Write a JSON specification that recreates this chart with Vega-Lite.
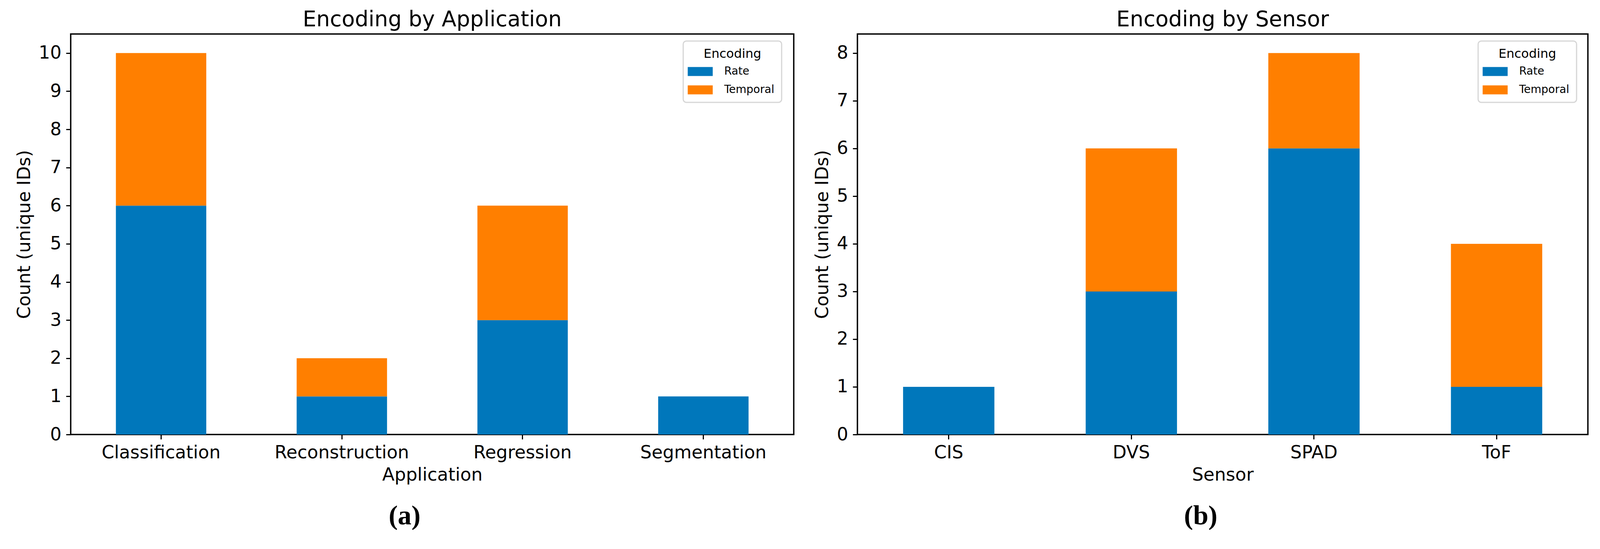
{
  "$schema": "https://vega.github.io/schema/vega-lite/v6.json",
  "background": "white",
  "padding": {"left": 37, "top": 21, "right": 0, "bottom": 0},
  "config": {
    "font": "DejaVu Sans",
    "view": {"stroke": "black", "strokeWidth": 3.5},
    "axis": {"grid": false, "domain": false, "tickColor": "black", "tickWidth": 3, "tickSize": 12, "labelFontSize": 46, "titleFontSize": 46, "labelColor": "black", "titleColor": "black", "titleFontWeight": "normal", "labelPadding": 12, "titlePadding": 12, "labelFont": "DejaVu Sans", "titleFont": "DejaVu Sans", "labelLimit": 0},
    "title": {"fontSize": 55, "fontWeight": "normal", "color": "black", "font": "DejaVu Sans"},
    "legend": {"orient": "none", "padding": 18, "fillColor": "white", "strokeColor": "#d6d6d6", "strokeWidth": 3, "cornerRadius": 8, "titleFontSize": 32, "titleFontWeight": "normal", "titleAnchor": "middle", "titlePadding": 12, "labelFontSize": 28, "titleColor": "black", "labelColor": "black", "symbolType": "M-1.4,-0.72L2.6,-0.72L2.6,0.72L-1.4,0.72Z", "symbolSize": 1024, "symbolStrokeWidth": 0, "symbolOpacity": 1, "labelOffset": 55, "rowPadding": 17}
  },
  "datasets": {
    "app": [
      {"Application": "Classification", "Encoding": "Rate", "Count": 6},
      {"Application": "Classification", "Encoding": "Temporal", "Count": 4},
      {"Application": "Reconstruction", "Encoding": "Rate", "Count": 1},
      {"Application": "Reconstruction", "Encoding": "Temporal", "Count": 1},
      {"Application": "Regression", "Encoding": "Rate", "Count": 3},
      {"Application": "Regression", "Encoding": "Temporal", "Count": 3},
      {"Application": "Segmentation", "Encoding": "Rate", "Count": 1},
      {"Application": "Segmentation", "Encoding": "Temporal", "Count": 0}
    ],
    "sensor": [
      {"Sensor": "CIS", "Encoding": "Rate", "Count": 1},
      {"Sensor": "CIS", "Encoding": "Temporal", "Count": 0},
      {"Sensor": "DVS", "Encoding": "Rate", "Count": 3},
      {"Sensor": "DVS", "Encoding": "Temporal", "Count": 3},
      {"Sensor": "SPAD", "Encoding": "Rate", "Count": 6},
      {"Sensor": "SPAD", "Encoding": "Temporal", "Count": 2},
      {"Sensor": "ToF", "Encoding": "Rate", "Count": 1},
      {"Sensor": "ToF", "Encoding": "Temporal", "Count": 3}
    ]
  },
  "spacing": 46,
  "resolve": {"scale": {"color": "independent"}, "legend": {"color": "independent"}},
  "hconcat": [
    {
      "title": {"text": "(a)", "orient": "bottom", "font": "Liberation Serif", "fontSize": 70, "fontWeight": "bold", "offset": 47, "anchor": "middle"},
      "vconcat": [
        {
          "width": 1851,
          "height": 1025,
          "title": {"text": "Encoding by Application", "offset": 8, "frame": "group"},
          "data": {"name": "app"},
          "mark": {"type": "bar"},
          "encoding": {
            "x": {"field": "Application", "type": "nominal", "scale": {"paddingInner": 0.5, "paddingOuter": 0.25}, "axis": {"labelAngle": 0, "title": "Application"}},
            "y": {"field": "Count", "type": "quantitative", "stack": "zero", "scale": {"domain": [0, 10.5], "nice": false}, "axis": {"title": "Count (unique IDs)", "tickMinStep": 1}},
            "color": {"field": "Encoding", "type": "nominal", "scale": {"domain": ["Rate", "Temporal"], "range": ["#0077BB", "#FF7F00"]}, "legend": {"title": "Encoding", "legendX": 1568, "legendY": 18}},
            "order": {"field": "Encoding", "sort": "ascending"}
          }
        }
      ]
    },
    {
      "title": {"text": "(b)", "orient": "bottom", "font": "Liberation Serif", "fontSize": 70, "fontWeight": "bold", "offset": 47, "anchor": "middle"},
      "vconcat": [
        {
          "width": 1870,
          "height": 1025,
          "title": {"text": "Encoding by Sensor", "offset": 8, "frame": "group"},
          "data": {"name": "sensor"},
          "mark": {"type": "bar"},
          "encoding": {
            "x": {"field": "Sensor", "type": "nominal", "scale": {"paddingInner": 0.5, "paddingOuter": 0.25}, "axis": {"labelAngle": 0, "title": "Sensor"}},
            "y": {"field": "Count", "type": "quantitative", "stack": "zero", "scale": {"domain": [0, 8.4], "nice": false}, "axis": {"title": "Count (unique IDs)", "tickMinStep": 1}},
            "color": {"field": "Encoding", "type": "nominal", "scale": {"domain": ["Rate", "Temporal"], "range": ["#0077BB", "#FF7F00"]}, "legend": {"title": "Encoding", "legendX": 1589, "legendY": 18}},
            "order": {"field": "Encoding", "sort": "ascending"}
          }
        }
      ]
    }
  ]
}
